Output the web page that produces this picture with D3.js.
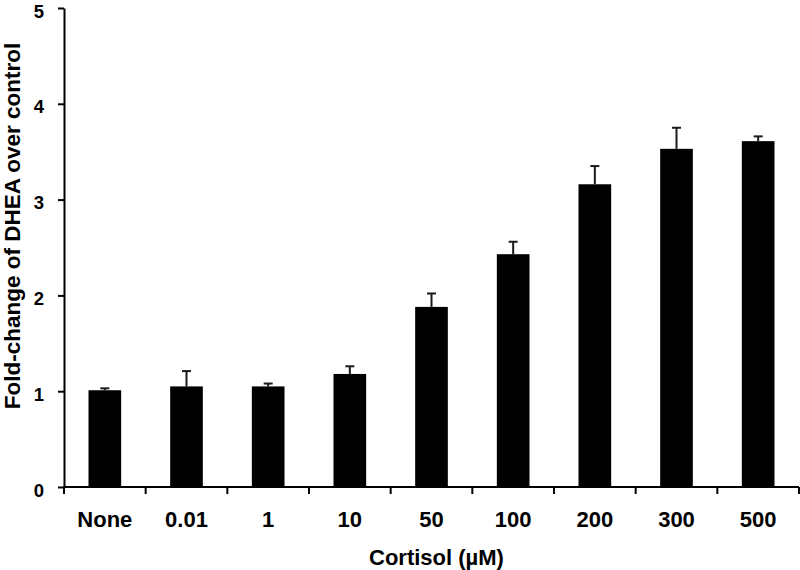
<!DOCTYPE html>
<html>
<head>
<meta charset="utf-8">
<script src="https://cdn.jsdelivr.net/npm/d3@7"></script>
<style>
  html, body { margin: 0; padding: 0; background: #fff; }
  svg { display: block; }
  text { font-family: "Liberation Sans", Arial, sans-serif; font-weight: bold; fill: #000; }
</style>
</head>
<body>
<svg id="chart" width="800" height="570"></svg>
<script>
const categories = ["None", "0.01", "1", "10", "50", "100", "200", "300", "500"];
const values = [1.01, 1.05, 1.05, 1.18, 1.88, 2.43, 3.16, 3.53, 3.61];
const errors = [0.02, 0.16, 0.03, 0.08, 0.14, 0.13, 0.19, 0.22, 0.05];
const yTicks = [0, 1, 2, 3, 4, 5];
const xTitle = "Cortisol (µM)";
const yTitle = "Fold-change of DHEA over control";

(function () {
const svg = d3.select("#chart");
const mLeft = 64, mRight = 799, mTop = 8, mBottom = 487;

const x = d3.scaleBand().domain(categories).range([mLeft, mRight]).paddingInner(0.6).paddingOuter(0.3);
const y = d3.scaleLinear().domain([0, 5]).range([mBottom, mTop]);

// bars
svg.append("g").selectAll("rect").data(categories).join("rect")
  .attr("x", d => x(d))
  .attr("width", x.bandwidth())
  .attr("y", (d, i) => y(values[i]))
  .attr("height", (d, i) => y(0) - y(values[i]))
  .attr("fill", "#000");

// error bars (upper only)
const eg = svg.append("g").attr("stroke", "#1a1a1a").attr("stroke-width", 2);
categories.forEach((c, i) => {
  const cx = x(c) + x.bandwidth() / 2;
  eg.append("line").attr("x1", cx).attr("x2", cx)
    .attr("y1", y(values[i])).attr("y2", y(values[i] + errors[i]));
  eg.append("line").attr("x1", cx - 4.5).attr("x2", cx + 4.5)
    .attr("y1", y(values[i] + errors[i])).attr("y2", y(values[i] + errors[i]));
});

// y axis
const yAxis = svg.append("g").attr("transform", `translate(${mLeft},0)`)
  .call(d3.axisLeft(y).tickValues(yTicks).tickFormat(d3.format("d")).tickSize(6).tickSizeOuter(0).tickPadding(14));
yAxis.select(".domain").attr("stroke", "#000").attr("stroke-width", 2);
yAxis.selectAll(".tick line").attr("stroke", "#000").attr("stroke-width", 2);
yAxis.selectAll(".tick text")
  .attr("dy", "9px")
  .style("font-size", "18.5px").style("font-family", "'Liberation Sans', Arial, sans-serif").style("font-weight", "bold");

// x axis with ticks between categories
const boundaries = d3.range(categories.length + 1).map(i => mLeft + i * (mRight - mLeft) / categories.length);
const xg = svg.append("g");
xg.append("line").attr("x1", mLeft - 1).attr("x2", mRight).attr("y1", mBottom).attr("y2", mBottom)
  .attr("stroke", "#000").attr("stroke-width", 2);
xg.selectAll("line.tk").data(boundaries).join("line").attr("class", "tk")
  .attr("x1", d => d).attr("x2", d => d).attr("y1", mBottom).attr("y2", mBottom + 7)
  .attr("stroke", "#000").attr("stroke-width", 2);
xg.selectAll("text").data(categories).join("text")
  .attr("x", d => x(d) + x.bandwidth() / 2)
  .attr("y", 527)
  .attr("text-anchor", "middle")
  .style("font-size", "22px")
  .text(d => d);

// axis titles
svg.append("text").attr("x", (mLeft + mRight) / 2 + 5).attr("y", 565)
  .attr("text-anchor", "middle").style("font-size", "22px").text(xTitle);
svg.append("text").attr("transform", "translate(20,226) rotate(-90)")
  .attr("text-anchor", "middle").style("font-size", "22.5px").text(yTitle);
})();
</script>
</body>
</html>
